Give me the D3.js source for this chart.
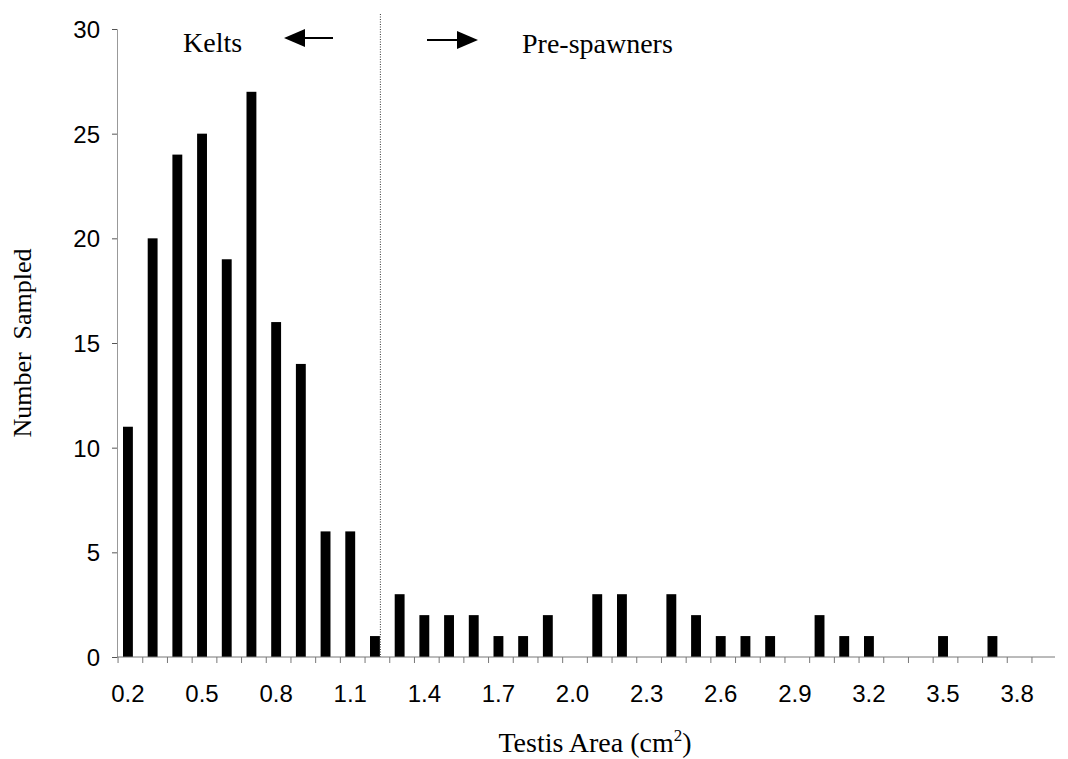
<!DOCTYPE html>
<html>
<head>
<meta charset="utf-8">
<script src="https://cdn.jsdelivr.net/npm/d3@7"></script>
<style>
  body { margin: 0; background: #fff; }
  .tick text { font-family: "Liberation Sans", Arial, sans-serif; font-size: 24px; fill: #000; }
  .title { font-family: "Liberation Serif", "Times New Roman", serif; font-size: 28px; fill: #000; }
</style>
</head>
<body>
<div class="graph"></div>
<script>
const categories = ['0.2','0.3','0.4','0.5','0.6','0.7','0.8','0.9','1.0','1.1','1.2','1.3','1.4','1.5','1.6','1.7','1.8','1.9','2.0','2.1',
  '2.2','2.3','2.4','2.5','2.6','2.7','2.8','2.9','3.0','3.1','3.2','3.3','3.4','3.5','3.6','3.7','3.8','3.9'];
const counts = [11, 20, 24, 25, 19, 27, 16, 14, 6, 6, 1, 3, 2, 2, 2, 1, 1, 2, 0, 3,
  3, 0, 3, 2, 1, 1, 1, 0, 2, 1, 1, 0, 0, 1, 0, 1, 0, 0];
const xTickLabels = ['0.2','0.5','0.8','1.1','1.4','1.7','2.0','2.3','2.6','2.9','3.2','3.5','3.8'];
const yTicks = [0, 5, 10, 15, 20, 25, 30];

function displayGraph() {
  const w = 1068;
  const h = 759;
  const padding = { top: 29, right: 13, bottom: 102, left: 117 };
  const step = 24.7;
  const barStart = 123;

  const xScale = d3.scaleBand()
    .domain(categories)
    .range([barStart, barStart + step * (categories.length - 0.6)])
    .paddingInner(0.6)
    .paddingOuter(0);
  const edge = (d) => xScale(d) - step * 0.2;
  const yScale = d3.scaleLinear()
    .domain([0, 30])
    .range([h - padding.bottom, padding.top]);

  const svg = d3.select('.graph')
    .append('svg')
    .attr('width', w)
    .attr('height', h);

  // bars
  svg.append('g')
    .selectAll('rect')
    .data(categories)
    .join('rect')
    .attr('x', (d) => xScale(d))
    .attr('width', xScale.bandwidth())
    .attr('y', (d, i) => yScale(counts[i]))
    .attr('height', (d, i) => yScale(0) - yScale(counts[i]))
    .attr('fill', '#000');

  // y axis
  const yAxis = svg.append('g')
    .attr('transform', `translate(${padding.left}, 0)`)
    .call(d3.axisLeft(yScale).tickValues(yTicks).tickSize(5).tickPadding(12));
  yAxis.select('.domain').attr('stroke', '#999');
  yAxis.selectAll('.tick line').attr('stroke', '#555');
  yAxis.selectAll('.tick text').attr('dy', '0.36em');

  // x axis line, ticks at the band edges
  svg.append('line')
    .attr('x1', padding.left).attr('x2', w - padding.right)
    .attr('y1', yScale(0)).attr('y2', yScale(0))
    .attr('stroke', '#777');
  svg.append('g')
    .selectAll('line')
    .data(categories)
    .join('line')
    .attr('x1', edge)
    .attr('x2', edge)
    .attr('y1', yScale(0))
    .attr('y2', yScale(0) + 6)
    .attr('stroke', '#777');

  const xAxis = svg.append('g')
    .attr('transform', `translate(0, ${yScale(0)})`)
    .call(d3.axisBottom(xScale).tickValues(xTickLabels).tickSize(0).tickPadding(28));
  xAxis.select('.domain').remove();

  // kelts / pre-spawners divider
  const divX = xScale('1.2') + xScale.bandwidth() + 0.5;
  svg.append('line')
    .attr('x1', divX).attr('x2', divX)
    .attr('y1', 14).attr('y2', yScale(0))
    .attr('stroke', '#333')
    .attr('stroke-width', 1)
    .attr('stroke-dasharray', '1,1.5');

  // annotations
  svg.append('text').attr('class', 'title')
    .attr('x', 183).attr('y', 52).text('Kelts');
  svg.append('text').attr('class', 'title')
    .attr('x', 522).attr('y', 53).text('Pre-spawners');

  svg.append('line')
    .attr('x1', 300).attr('x2', 333).attr('y1', 38).attr('y2', 38)
    .attr('stroke', '#000').attr('stroke-width', 2);
  svg.append('path')
    .attr('d', 'M284,38 L305,29 L305,47 Z').attr('fill', '#000');

  svg.append('line')
    .attr('x1', 427).attr('x2', 460).attr('y1', 40).attr('y2', 40)
    .attr('stroke', '#000').attr('stroke-width', 2);
  svg.append('path')
    .attr('d', 'M478,40 L457,31 L457,49 Z').attr('fill', '#000');

  // axis titles
  const xt = svg.append('text').attr('class', 'title')
    .attr('x', 595).attr('y', 752)
    .attr('text-anchor', 'middle');
  xt.append('tspan').text('Testis Area (cm');
  xt.append('tspan').attr('dy', -11).attr('font-size', 17).text('2');
  xt.append('tspan').attr('dy', 11).text(')');

  svg.append('text').attr('class', 'title')
    .attr('transform', `translate(31, ${(yScale(0) + yScale(30)) / 2}) rotate(-90)`)
    .attr('text-anchor', 'middle')
    .style('font-size', '26px')
    .text('Number\u00a0 Sampled');
}

displayGraph();
</script>
</body>
</html>
